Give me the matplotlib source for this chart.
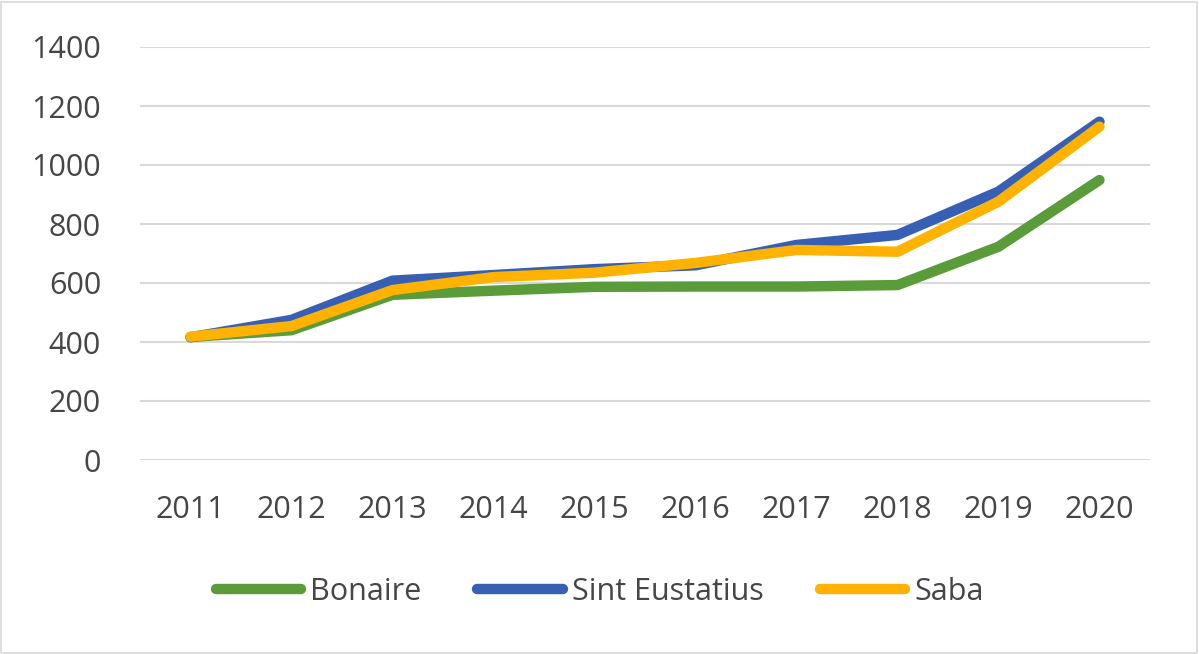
import matplotlib
matplotlib.use('Agg')
import matplotlib.pyplot as plt
from matplotlib.patches import Rectangle

plt.rcParams['font.family'] = ['Open Sans', 'DejaVu Sans']

# data
years = ['2011', '2012', '2013', '2014', '2015', '2016', '2017', '2018', '2019', '2020']
bonaire = [417, 440, 560, 574, 587, 588, 588, 593, 723, 949]
sint_eustatius = [416, 475, 608, 627, 647, 660, 729, 763, 910, 1147]
saba = [418, 454, 576, 620, 635, 668, 712, 706, 876, 1130]

series = [('Bonaire', bonaire, '#5b9c3a'),
          ('Sint Eustatius', sint_eustatius, '#3760b5'),
          ('Saba', saba, '#ffb300')]

fig = plt.figure(figsize=(11.99, 6.54), dpi=100)
ax = fig.add_axes([140/1199, 1 - 460/654, 1010/1199, 413/654])

x = range(len(years))
for name, vals, col in series:
    ax.plot(x, vals, color=col, lw=7.5, solid_capstyle='round',
            solid_joinstyle='round', label=name)

ax.set_xlim(-0.5, len(years) - 0.5)
ax.set_ylim(0, 1400)
ax.set_yticks(range(0, 1401, 200))
ax.set_xticks(list(x))
ax.set_xticklabels(years)
ax.grid(axis='y', color='#d9d9d9', lw=1.5)
ax.set_axisbelow(True)
for s in ax.spines.values():
    s.set_visible(False)
ax.tick_params(length=0, labelsize=22, colors='#464646')
ax.tick_params(axis='y', pad=28)
ax.tick_params(axis='x', pad=25)

leg = fig.legend(loc='center', bbox_to_anchor=(0.5, 1 - 592/654), ncol=3,
                 frameon=False, fontsize=22, handlelength=2.8,
                 handletextpad=0.28, columnspacing=1.85)
for t in leg.get_texts():
    t.set_color('#464646')

# light frame around the chart
fig.patches.append(Rectangle((0.001, 0.002), 0.997, 0.995, transform=fig.transFigure,
                             fill=False, edgecolor='#d9d9d9', lw=1.2))

fig.savefig('out.png', dpi=100)
